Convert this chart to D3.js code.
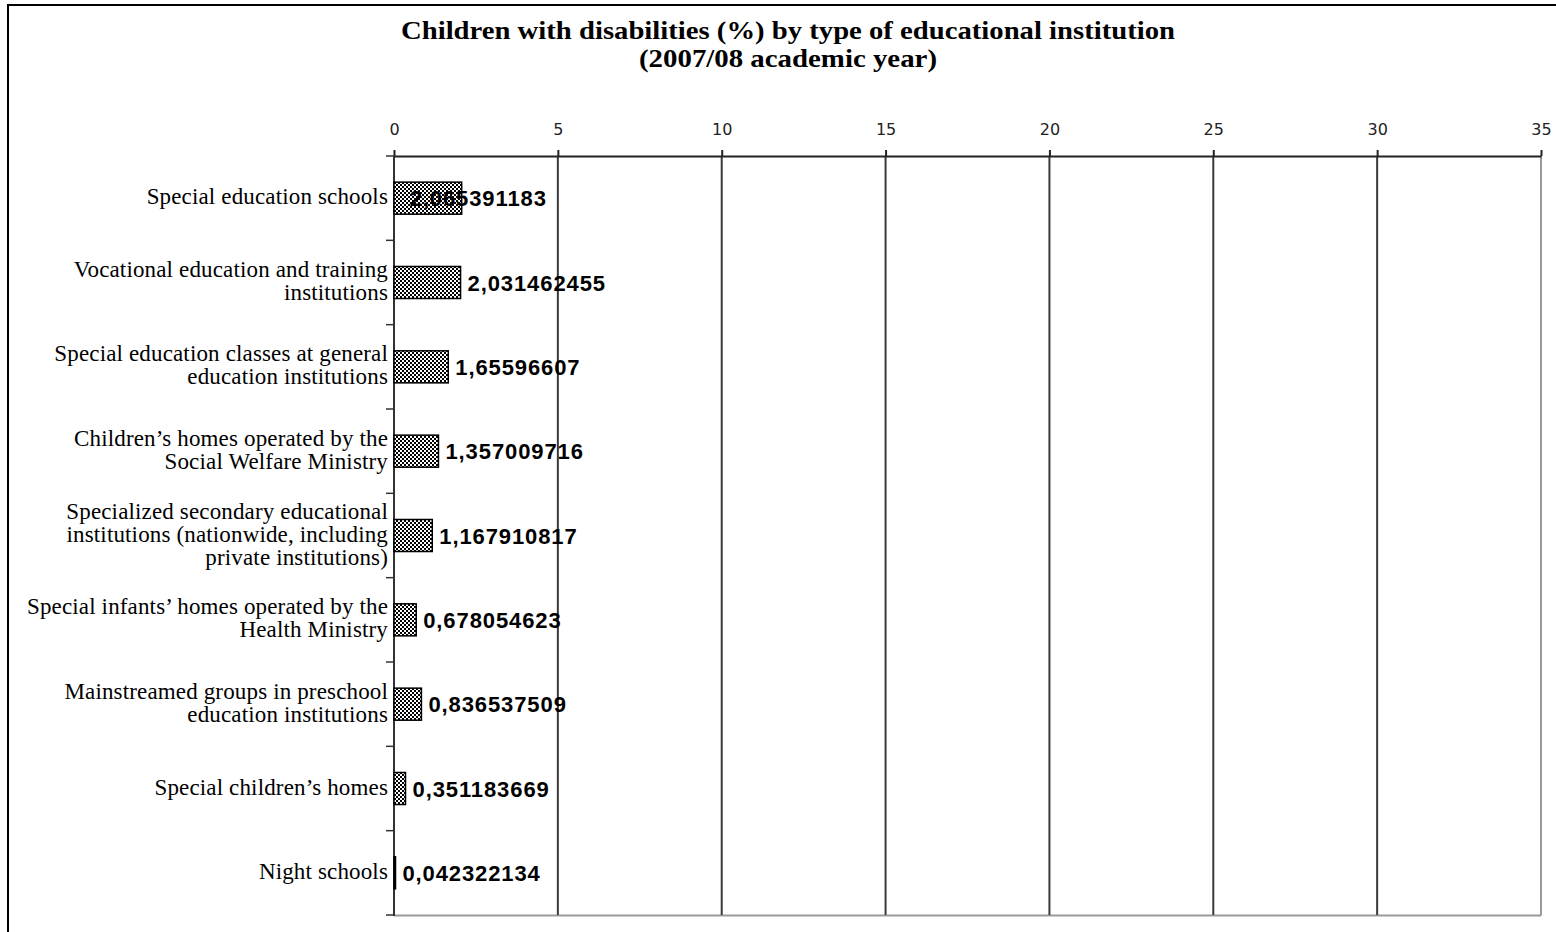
<!DOCTYPE html>
<html>
<head>
<meta charset="utf-8">
<script src="https://cdn.jsdelivr.net/npm/d3@7/dist/d3.min.js"></script>
<style>
  html, body { margin: 0; padding: 0; background: #fff; }
  svg { display: block; }
</style>
</head>
<body>
<svg id="chart" width="1556" height="932"></svg>
<script>
// Institution types (top to bottom), each label split into its printed lines
const categories = [
  ["Special education schools"],
  ["Vocational education and training", "institutions"],
  ["Special education classes at general", "education institutions"],
  ["Children\u2019s homes operated by the", "Social Welfare Ministry"],
  ["Specialized secondary educational", "institutions (nationwide, including", "private institutions)"],
  ["Special infants\u2019 homes operated by the", "Health Ministry"],
  ["Mainstreamed groups in preschool", "education institutions"],
  ["Special children\u2019s homes"],
  ["Night schools"]
];

// Share of children with disabilities, %
const values = [
  2.065391183,
  2.031462455,
  1.65596607,
  1.357009716,
  1.167910817,
  0.678054623,
  0.836537509,
  0.351183669,
  0.042322134
];

const xTicks = [0, 5, 10, 15, 20, 25, 30, 35];

const titleLines = [
  "Children with disabilities (%) by type of educational institution",
  "(2007/08 academic year)"
];
// printed widths of the two title lines (condensed bold serif)
const titleWidths = [774, 298];

const svg = d3.select("#chart");
const keys = categories.map((c, i) => i);

const x = d3.scaleLinear().domain([0, 35]).range([394, 1541]);
const y = d3.scaleBand().domain(keys).range([156, 915])
  .paddingInner(0.62).paddingOuter(0.31);
const step = y.step();

// checkered fill for the bars
const defs = svg.append("defs");
const pat = defs.append("pattern")
  .attr("id", "checker")
  .attr("patternUnits", "userSpaceOnUse")
  .attr("width", 4).attr("height", 4);
pat.append("rect").attr("width", 4).attr("height", 4).attr("fill", "#fff");
pat.append("rect").attr("x", 0).attr("y", 0).attr("width", 2).attr("height", 2).attr("fill", "#000");
pat.append("rect").attr("x", 2).attr("y", 2).attr("width", 2).attr("height", 2).attr("fill", "#000");

// outer frame
svg.append("rect")
  .attr("x", 8).attr("y", 5)
  .attr("width", 1600).attr("height", 1000)
  .attr("fill", "none").attr("stroke", "#000").attr("stroke-width", 2);

// title
svg.append("g").selectAll("text").data(titleLines).join("text")
  .attr("x", 788)
  .attr("y", (d, i) => 39 + i * 28)
  .attr("text-anchor", "middle")
  .attr("font-family", "'Liberation Serif', 'Times New Roman', serif")
  .attr("font-weight", "bold")
  .attr("font-size", 25)
  .attr("textLength", (d, i) => titleWidths[i])
  .attr("lengthAdjust", "spacingAndGlyphs")
  .attr("fill", "#000")
  .text(d => d);

// plot area: gray right/bottom edges
svg.append("line")
  .attr("x1", x(0)).attr("x2", x(35))
  .attr("y1", 915.5).attr("y2", 915.5)
  .attr("stroke", "#999").attr("stroke-width", 2);
svg.append("line")
  .attr("x1", x(35)).attr("x2", x(35))
  .attr("y1", 156).attr("y2", 915.5)
  .attr("stroke", "#999").attr("stroke-width", 2);

// vertical gridlines
svg.append("g").selectAll("line")
  .data(xTicks.filter(t => t > 0 && t < 35)).join("line")
  .attr("x1", d => x(d)).attr("x2", d => x(d))
  .attr("y1", 156).attr("y2", 915)
  .attr("stroke", "#3a3a3a").attr("stroke-width", 2);

// top value axis
const xAxis = d3.axisTop(x).tickValues(xTicks).tickSize(6).tickSizeOuter(0).tickPadding(5)
  .tickFormat(d3.format("d"));
const gx = svg.append("g").attr("transform", "translate(0,156)").call(xAxis);
gx.select(".domain").attr("stroke", "#222").attr("stroke-width", 2);
gx.selectAll(".tick line").attr("stroke", "#222").attr("stroke-width", 2);
gx.selectAll(".tick text")
  .attr("font-family", "'DejaVu Sans', sans-serif")
  .attr("font-size", 16)
  .attr("fill", "#222")
  .attr("dy", "-0.6em");

// left category axis with ticks on band boundaries
svg.append("line")
  .attr("x1", x(0)).attr("x2", x(0))
  .attr("y1", 156).attr("y2", 916)
  .attr("stroke", "#333").attr("stroke-width", 2);
const bounds = keys.map(k => y(k) - y.paddingOuter() * step).concat([915]);
svg.append("g").selectAll("line").data(bounds).join("line")
  .attr("x1", x(0) - 8).attr("x2", x(0))
  .attr("y1", d => d).attr("y2", d => d)
  .attr("stroke", "#333").attr("stroke-width", 1.5);

// category labels
const lh = 23;
const labelG = svg.append("g")
  .attr("font-family", "'Liberation Serif', 'Times New Roman', serif")
  .attr("font-size", 23)
  .attr("letter-spacing", 0.15)
  .attr("fill", "#000")
  .attr("text-anchor", "end");
categories.forEach((lines, i) => {
  const cy = y(i) + y.bandwidth() / 2;
  lines.forEach((ln, j) => {
    labelG.append("text")
      .attr("x", 388)
      .attr("y", cy + (j - (lines.length - 1) / 2) * lh + 6)
      .text(ln);
  });
});

// bars
svg.append("g").selectAll("rect").data(values).join("rect")
  .attr("x", x(0))
  .attr("y", (d, i) => y(i))
  .attr("width", d => Math.max(x(d) - x(0), 1.5))
  .attr("height", y.bandwidth())
  .attr("fill", "url(#checker)")
  .attr("stroke", "#000")
  .attr("stroke-width", 1.5);

// value labels (the first one sits partly over its bar)
const firstLabelNudge = -59;
svg.append("g").selectAll("text").data(values).join("text")
  .attr("x", (d, i) => x(d) + 7 + (i === 0 ? firstLabelNudge : 0))
  .attr("y", (d, i) => y(i) + y.bandwidth() / 2 + 8)
  .attr("font-family", "'Liberation Sans', Arial, sans-serif")
  .attr("font-weight", "bold")
  .attr("font-size", 22)
  .attr("letter-spacing", 0.9)
  .attr("fill", "#000")
  .text(d => String(d).replace(".", ","));
</script>
</body>
</html>
